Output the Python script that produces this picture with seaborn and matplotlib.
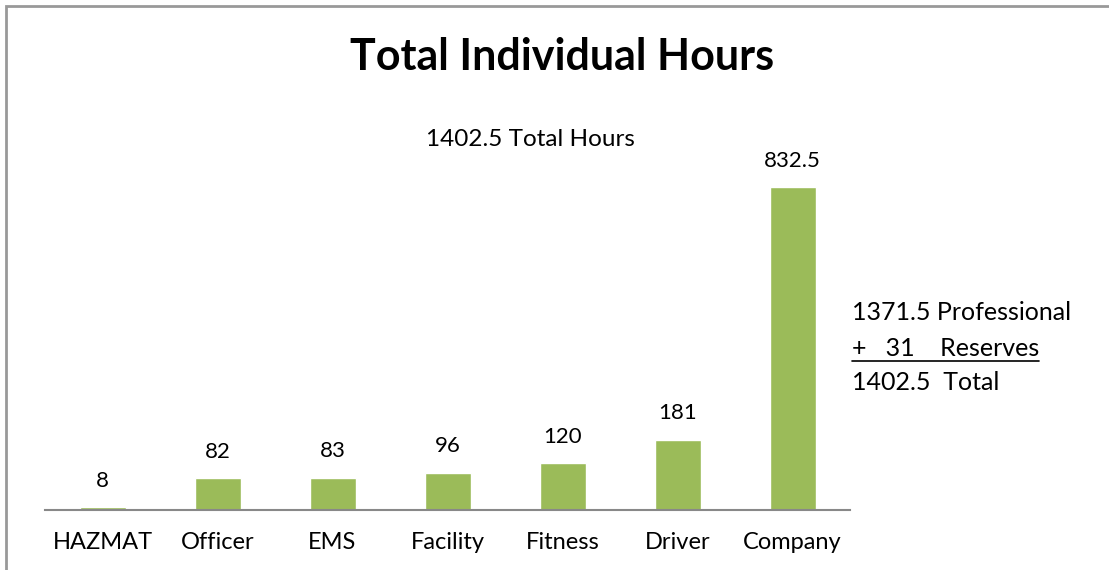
import matplotlib.pyplot as plt
import seaborn as sns
import pandas as pd
from matplotlib.lines import Line2D
from matplotlib.patches import Rectangle

# Data
categories = ["HAZMAT", "Officer", "EMS", "Facility", "Fitness", "Driver", "Company"]
hours = [8, 82, 83, 96, 120, 181, 832.5]
bar_labels = ["8", "82", "83", "96", "120", "181", "832.5"]
summary_lines = ["1371.5 Professional", "+   31    Reserves", "1402.5  Total"]

df = pd.DataFrame({"category": categories, "hours": hours})

sns.set_style("white")
plt.rcParams["font.family"] = ["Lato", "DejaVu Sans"]
plt.rcParams["text.color"] = "black"

fig = plt.figure(figsize=(11.09, 5.7), dpi=100)
ax = fig.add_axes([45 / 1109, 60 / 570, 805 / 1109, 410 / 570])

sns.barplot(data=df, x="category", y="hours", color="#9BBB59", width=0.4,
            saturation=1, ax=ax)

ax.set_xlim(-0.5, 6.5)
ax.set_ylim(0, 1057)
ax.set_xlabel("")
ax.set_ylabel("")
ax.set_yticks([])
ax.tick_params(axis="x", length=0, labelsize=17, pad=16, colors="black")
for side in ["left", "right", "top"]:
    ax.spines[side].set_visible(False)
ax.spines["bottom"].set_color("#888888")
ax.spines["bottom"].set_linewidth(1.5)

# value labels
for i, (v, lab) in enumerate(zip(hours, bar_labels)):
    ax.annotate(lab, (i, v), xytext=(0, 19), textcoords="offset points",
                ha="center", va="center", fontsize=16, color="black")

# title and notes
fig.text(562 / 1109, 1 - 57 / 570, "Total Individual Hours", ha="center",
         va="center", fontsize=31, fontweight="bold", color="black")
fig.text(530 / 1109, 1 - 140 / 570, "1402.5 Total Hours", ha="center",
         va="center", fontsize=17.5, color="black")

ys = [312, 348, 382]
texts = []
for line, y in zip(summary_lines, ys):
    texts.append(fig.text(852 / 1109, 1 - y / 570, line, ha="left",
                          va="center", fontsize=18, color="black"))

# underline the reserves line
fig.canvas.draw()
bb = texts[1].get_window_extent().transformed(fig.transFigure.inverted())
fig.add_artist(Line2D([bb.x0, bb.x1], [bb.y0 - 0.002, bb.y0 - 0.002],
                      transform=fig.transFigure, color="black", lw=1.2))

# chart frame (left and top edges visible)
fig.add_artist(Rectangle((6 / 1109, -0.1), 1.2, 1 - 6 / 570 + 0.1,
                         transform=fig.transFigure, fill=False,
                         edgecolor="#999999", lw=2))

fig.savefig("out.png", dpi=100)
